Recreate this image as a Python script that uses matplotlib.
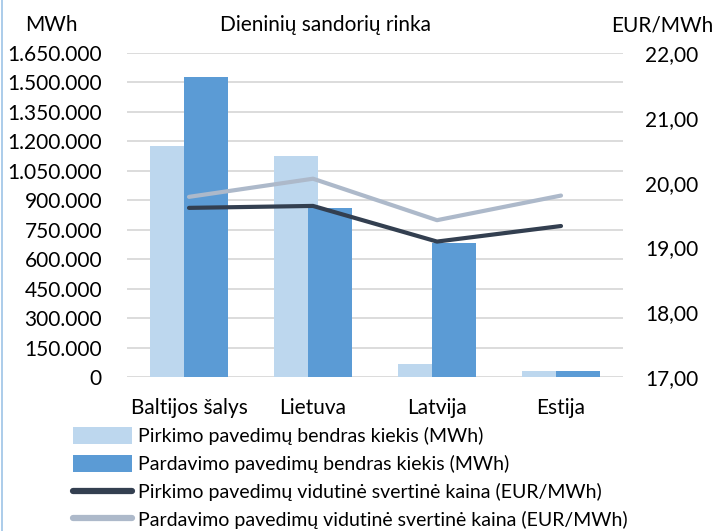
import matplotlib
matplotlib.use("Agg")
import matplotlib.pyplot as plt
from matplotlib.patches import Patch
from matplotlib.lines import Line2D
import numpy as np

categories = ["Baltijos šalys", "Lietuva", "Latvija", "Estija"]
pirkimo_kiekis = [1178000, 1125000, 66000, 30000]
pardavimo_kiekis = [1526000, 859000, 681000, 30000]
pirkimo_kaina = [19.61, 19.64, 19.09, 19.33]
pardavimo_kaina = [19.78, 20.06, 19.42, 19.80]
left_ticks = list(range(0, 1650001, 150000))
right_ticks = [17, 18, 19, 20, 21, 22]

labels = ["Pirkimo pavedimų bendras kiekis (MWh)",
          "Pardavimo pavedimų bendras kiekis (MWh)",
          "Pirkimo pavedimų vidutinė svertinė kaina (EUR/MWh)",
          "Pardavimo pavedimų vidutinė svertinė kaina (EUR/MWh)"]

c_light = "#BDD7EE"
c_dark = "#5B9BD5"
c_line1 = "#333F50"
c_line2 = "#ADB9CA"

plt.rcParams['font.family'] = ['Lato', 'DejaVu Sans']
fs = 15
fs_leg = 14

fig = plt.figure(figsize=(7.15, 5.31), dpi=100)
W, H = 715, 531
PX = 72 / 100  # points per pixel
ax = fig.add_axes([127 / W, 1 - 377 / H, (623 - 127) / W, (377 - 53) / H])
ax2 = ax.twinx()

x = np.arange(len(categories))
bw = 0.355
off = 0.141
ax.bar(x - off, pirkimo_kiekis, bw, color=c_light, zorder=2)
ax.bar(x + off, pardavimo_kiekis, bw, color=c_dark, zorder=3)
ax.set_ylim(0, 1650000)
ax.set_xlim(-0.5, 3.5)
ax.set_yticks(left_ticks)
ax.set_yticklabels([f"{v:,}".replace(",", ".") for v in left_ticks], fontsize=fs)
ax.yaxis.grid(True, color="#D9D9D9", linewidth=1.3, zorder=0)
ax.set_axisbelow(True)
ax.set_xticks(x)
ax.set_xticklabels(categories, fontsize=fs)
ax.tick_params(axis='both', length=0)
ax.tick_params(axis='y', pad=25 * PX)
ax.tick_params(axis='x', pad=21 * PX)

ax2.plot(x, pirkimo_kaina, color=c_line1, linewidth=3, solid_capstyle='round', solid_joinstyle='round', zorder=4)
ax2.plot(x, pardavimo_kaina, color=c_line2, linewidth=3, solid_capstyle='round', solid_joinstyle='round', zorder=4)
ax2.set_ylim(17, 22)
ax2.set_yticks(right_ticks)
ax2.set_yticklabels([f"{v:.2f}".replace(".", ",") for v in right_ticks], fontsize=fs)
ax2.tick_params(axis='y', length=0, pad=22 * PX)

for a in (ax, ax2):
    for s in a.spines.values():
        s.set_visible(False)

fig.text(25 / W, 1 - 25 / H, "MWh", fontsize=fs, ha='left', va='center')
fig.text(325 / W, 1 - 25 / H, "Dieninių sandorių rinka", fontsize=fs, ha='center', va='center')
fig.text(713 / W, 1 - 25 / H, "EUR/MWh", fontsize=fs, ha='right', va='center')

handles = [Patch(facecolor=c_light, edgecolor='none'),
           Patch(facecolor=c_dark, edgecolor='none'),
           Line2D([0], [0], color=c_line1, linewidth=4.5, solid_capstyle='round'),
           Line2D([0], [0], color=c_line2, linewidth=4.5, solid_capstyle='round')]
fs_px = fs_leg / PX
fig.legend(handles, labels, loc='upper left', bbox_to_anchor=(73 / W, 1 - 427 / H),
           frameon=False, fontsize=fs_leg, handlelength=59 / fs_px, handleheight=19 / fs_px,
           labelspacing=0.5, handletextpad=6 / fs_px, borderaxespad=0, borderpad=0)

fig.add_artist(Line2D([1.5 / W, 1.5 / W], [0, 1], color="#9DC3E6", linewidth=1.2))

fig.savefig("out.png", dpi=100)
